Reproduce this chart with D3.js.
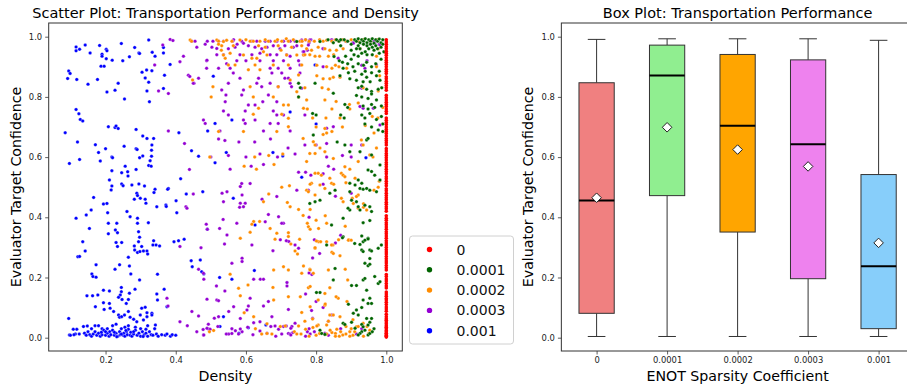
<!DOCTYPE html>
<html>
<head>
<meta charset="utf-8">
<script src="https://cdn.jsdelivr.net/npm/d3@7"></script>
<style>
  body { margin: 0; background: #fff; }
  svg { display: block; font-family: "DejaVu Sans", sans-serif; }
</style>
</head>
<body>
<svg id="chart" width="907" height="388"></svg>
<script>
// ---- data ----
const sparsityLabels = ["0", "0.0001", "0.0002", "0.0003", "0.001"];
const scatterColors = ["#ff0000", "#006400", "#ff8c00", "#9400d3", "#0000ff"];
const boxColors = ["#f08080", "#90ee90", "#ffa500", "#ee82ee", "#87cefa"];

// box plot stats per sparsity coefficient
const boxLow = [0.004, 0.004, 0.004, 0.004, 0.004];
const boxQ1 = [0.081, 0.472, 0.351, 0.196, 0.030];
const boxMedian = [0.456, 0.871, 0.704, 0.643, 0.237];
const boxQ3 = [0.847, 0.972, 0.941, 0.923, 0.542];
const boxHigh = [0.991, 0.993, 0.993, 0.993, 0.988];
const boxMean = [0.465, 0.699, 0.625, 0.569, 0.315];

// sparsity 0: density is always 1.0
const zeroDensity = 1.0;
const zeroConfidence = [0.002,0.005,0.008,0.012,0.015,0.02,0.024,0.03,0.035,0.04,0.046,0.052,0.058,0.063,0.07,0.078,0.088,0.095,0.102,0.11,0.118,0.125,0.13,0.138,0.145,0.152,0.165,0.172,0.18,0.188,0.195,0.203,0.21,0.225,0.232,0.24,0.248,0.255,0.262,0.27,0.278,0.285,0.292,0.3,0.308,0.315,0.322,0.33,0.338,0.345,0.352,0.36,0.368,0.375,0.382,0.39,0.397,0.405,0.42,0.428,0.435,0.443,0.45,0.458,0.465,0.472,0.48,0.488,0.495,0.505,0.512,0.52,0.528,0.535,0.545,0.552,0.56,0.568,0.575,0.582,0.59,0.598,0.605,0.612,0.62,0.628,0.64,0.648,0.655,0.662,0.67,0.678,0.685,0.692,0.7,0.708,0.715,0.722,0.73,0.745,0.752,0.76,0.768,0.775,0.782,0.79,0.797,0.805,0.822,0.83,0.838,0.845,0.852,0.86,0.867,0.878,0.885,0.892,0.9,0.908,0.915,0.922,0.93,0.938,0.945,0.952,0.96,0.967,0.975,0.982,0.99];

// [density, confidence]
const points1e4 = [
  [0.91,0.99],[0.915,0.985],[0.92,0.993],[0.925,0.98],[0.93,0.99],[0.935,0.985],[0.94,0.993],[0.945,0.98],[0.95,0.99],[0.955,0.985],[0.96,0.993],[0.965,0.978],[0.97,0.99],[0.975,0.985],[0.98,0.992],[0.985,0.98],[0.99,0.99],
  [0.935,0.975],[0.945,0.97],[0.955,0.975],[0.96,0.965],[0.97,0.97],[0.975,0.96],[0.985,0.965],[0.99,0.975],[0.92,0.97],[0.925,0.96],[0.95,0.96],[0.965,0.955],[0.94,0.95],[0.915,0.96],[0.9,0.975],[0.89,0.985],[0.88,0.99],[0.865,0.985],[0.87,0.97],[0.87,0.99],[0.858,0.99],[0.849,0.98],[0.834,0.99],[0.811,0.984],[0.745,0.984],
  [0.9,0.955],[0.93,0.945],[0.945,0.94],[0.96,0.94],[0.98,0.945],[0.993,0.95],[0.908,0.94],[0.92,0.935],[0.884,0.935],[0.9,0.925],[0.851,0.934],[0.866,0.92],[0.875,0.915],[0.89,0.91],[0.905,0.9],[0.92,0.91],[0.935,0.905],[0.944,0.915],[0.958,0.9],[0.97,0.91],[0.985,0.925],
  [0.877,0.895],[0.892,0.88],[0.91,0.885],[0.93,0.875],[0.94,0.885],[0.958,0.88],[0.972,0.87],[0.98,0.885],[0.868,0.87],[0.896,0.86],[0.915,0.855],[0.934,0.85],[0.944,0.865],[0.954,0.85],[0.982,0.855],[0.797,0.845],[0.75,0.845],[0.755,0.83],[0.849,0.812],
  [0.92,0.83],[0.93,0.835],[0.944,0.825],[0.958,0.818],[0.977,0.825],[0.987,0.83],[0.915,0.805],[0.93,0.8],[0.948,0.795],[0.958,0.81],[0.972,0.79],[0.75,0.8],[0.882,0.775],[0.89,0.765],[0.934,0.77],[0.948,0.76],[0.958,0.775],[0.967,0.765],[0.986,0.77],
  [0.93,0.74],[0.939,0.73],[0.953,0.745],[0.972,0.725],[0.986,0.735],[0.939,0.71],[0.958,0.7],[0.977,0.69],[0.99,0.71],[0.79,0.745],[0.8,0.74],[0.88,0.73],[0.86,0.65],[0.87,0.74],
  [0.792,0.673],[0.882,0.64],[0.896,0.618],[0.925,0.618],[0.944,0.657],[0.948,0.662],[0.958,0.607],[0.982,0.574],[0.99,0.685],[0.948,0.557],[0.958,0.552],[0.967,0.54],[0.982,0.524],[0.92,0.524],[0.93,0.513],[0.911,0.507],[0.896,0.513],[0.925,0.496],[0.934,0.493],[0.944,0.496],[0.953,0.49],[0.972,0.485],
  [0.854,0.49],[0.839,0.48],[0.896,0.485],[0.901,0.457],[0.915,0.452],[0.92,0.435],[0.939,0.44],[0.953,0.435],[0.958,0.419],[0.925,0.424],[0.896,0.424],[0.891,0.43],[0.782,0.446],[0.797,0.452],[0.811,0.457],[0.877,0.397],[0.844,0.374],[0.934,0.382],[0.953,0.389],[0.877,0.335],[0.93,0.338],[0.948,0.33],
  [0.875,0.332],[0.83,0.308],[0.91,0.313],[0.925,0.31],[0.934,0.319],[0.939,0.324],[0.948,0.328],[0.93,0.291],[0.934,0.286],[0.953,0.291],[0.958,0.288],[0.986,0.308],[0.977,0.297],[0.953,0.263],[0.939,0.247],[0.948,0.239],[0.953,0.244],
  [0.854,0.23],[0.849,0.192],[0.934,0.192],[0.939,0.197],[0.967,0.203],[0.977,0.18],[0.982,0.186],[0.901,0.173],[0.915,0.173],[0.944,0.158],[0.953,0.131],[0.934,0.125],[0.948,0.114],[0.958,0.114],[0.811,0.15],[0.801,0.15],[0.892,0.111],[0.93,0.1],
  [0.915,0.092],[0.906,0.081],[0.92,0.075],[0.958,0.064],[0.944,0.064],[0.953,0.051],[0.93,0.044],[0.934,0.036],[0.877,0.048],[0.882,0.044],[0.901,0.051],[0.948,0.042],[0.939,0.025],[0.93,0.02],[0.911,0.031],[0.925,0.014],[0.948,0.009],[0.953,0.014],[0.816,0.014],[0.825,0.011],[0.92,0.009],[0.811,0.025],[0.96,0.02],[0.965,0.03]
];

const points2e4 = [
  [0.441,0.989],[0.445,0.985],[0.517,0.989],[0.522,0.985],[0.536,0.984],[0.545,0.988],[0.56,0.985],[0.583,0.989],[0.6,0.99],[0.612,0.985],[0.621,0.985],[0.64,0.985],[0.655,0.99],[0.664,0.985],[0.683,0.985],[0.69,0.99],[0.702,0.985],[0.715,0.993],[0.721,0.985],[0.735,0.99],[0.754,0.985],[0.76,0.985],[0.77,0.99],[0.78,0.985],[0.795,0.985],[0.81,0.99],[0.82,0.985],[0.83,0.988],[0.845,0.985],[0.855,0.99],[0.865,0.985],[0.875,0.99],[0.885,0.985],[0.9,0.99],[0.92,0.985],[0.935,0.99],[0.955,0.985],[0.975,0.99],
  [0.531,0.97],[0.564,0.97],[0.636,0.97],[0.655,0.965],[0.692,0.97],[0.73,0.965],[0.759,0.97],[0.773,0.96],[0.787,0.955],[0.806,0.965],[0.825,0.96],[0.839,0.955],[0.858,0.955],[0.877,0.96],[0.925,0.96],[0.977,0.96],[0.53,0.955],[0.555,0.945],[0.65,0.95],[0.7,0.955],[0.522,0.975],
  [0.536,0.939],[0.593,0.939],[0.66,0.939],[0.716,0.939],[0.745,0.939],[0.764,0.939],[0.768,0.94],[0.782,0.94],[0.797,0.935],[0.81,0.935],[0.835,0.935],[0.85,0.94],[0.972,0.935],[0.541,0.928],[0.617,0.928],[0.631,0.928],
  [0.55,0.906],[0.569,0.906],[0.626,0.906],[0.678,0.906],[0.721,0.906],[0.759,0.906],[0.802,0.905],[0.83,0.9],[0.845,0.895],[0.855,0.905],[0.865,0.9],[0.887,0.895],[0.972,0.9],[0.607,0.89],[0.64,0.89],
  [0.75,0.873],[0.802,0.87],[0.82,0.86],[0.839,0.86],[0.849,0.865],[0.868,0.865],[0.981,0.87],[0.448,0.856],[0.726,0.856],[0.506,0.834],[0.612,0.834],[0.692,0.834],[0.768,0.83],[0.817,0.83],[0.835,0.825],[0.934,0.83],[0.977,0.82],[0.745,0.817],
  [0.501,0.8],[0.621,0.8],[0.678,0.8],[0.75,0.8],[0.773,0.79],[0.825,0.79],[0.857,0.785],[0.895,0.775],[0.92,0.78],[0.707,0.773],[0.721,0.773],[0.636,0.762],[0.764,0.762],[0.775,0.76],[0.845,0.76],[0.896,0.76],[0.99,0.765],
  [0.621,0.742],[0.702,0.742],[0.721,0.729],[0.79,0.73],[0.828,0.73],[0.868,0.73],[0.96,0.735],[0.976,0.73],[0.721,0.701],[0.8,0.7],[0.825,0.695],[0.875,0.7],[0.94,0.705],[0.522,0.685],[0.593,0.685],[0.688,0.685],[0.83,0.68],[0.965,0.68],
  [0.763,0.662],[0.82,0.675],[0.845,0.685],[0.792,0.651],[0.797,0.64],[0.811,0.63],[0.797,0.612],[0.782,0.612],[0.773,0.585],[0.825,0.618],[0.849,0.595],[0.882,0.568],[0.896,0.56],[0.92,0.585],[0.929,0.657],[0.934,0.64],[0.972,0.63],[0.953,0.607],[0.962,0.6],
  [0.497,0.6],[0.625,0.6],[0.665,0.605],[0.705,0.61],[0.595,0.57],[0.63,0.56],[0.68,0.575],[0.773,0.49],[0.778,0.485],[0.797,0.546],[0.806,0.546],[0.815,0.54],[0.839,0.53],[0.844,0.513],[0.872,0.546],[0.877,0.54],[0.882,0.535],[0.911,0.53],[0.977,0.5],[0.787,0.513],[0.811,0.507],[0.825,0.496],
  [0.872,0.463],[0.877,0.452],[0.906,0.446],[0.92,0.474],[0.797,0.474],[0.665,0.477],[0.702,0.5],[0.724,0.505],[0.783,0.51],[0.85,0.51],[0.885,0.515],[0.915,0.469],[0.903,0.463],[0.92,0.43],[0.935,0.445],[0.65,0.452],[0.718,0.449],[0.726,0.435],[0.75,0.426],[0.783,0.426],[0.826,0.405],[0.83,0.38],[0.883,0.37],[0.935,0.433],[0.944,0.424],[0.965,0.49],[0.98,0.52],
  [0.622,0.386],[0.639,0.386],[0.617,0.377],[0.669,0.363],[0.688,0.347],[0.721,0.349],[0.721,0.336],[0.753,0.327],[0.778,0.369],[0.783,0.36],[0.807,0.363],[0.612,0.35],[0.584,0.33],[0.683,0.327],[0.728,0.311],[0.74,0.288],[0.807,0.319],[0.813,0.319],[0.864,0.325],[0.893,0.325],[0.848,0.308],[0.845,0.284],[0.797,0.297],[0.747,0.278],[0.763,0.406],[0.775,0.38],[0.8,0.39],
  [0.801,0.321],[0.83,0.319],[0.844,0.308],[0.892,0.324],[0.9,0.324],[0.797,0.299],[0.849,0.28],[0.868,0.272],[0.759,0.214],[0.792,0.214],[0.782,0.227],[0.778,0.166],[0.839,0.166],[0.825,0.147],[0.863,0.131],[0.825,0.108],[0.806,0.125],
  [0.783,0.225],[0.835,0.225],[0.883,0.227],[0.89,0.192],[0.721,0.225],[0.679,0.225],[0.707,0.236],[0.764,0.238],[0.555,0.211],[0.606,0.175],[0.579,0.164],[0.584,0.139],[0.677,0.167],[0.721,0.136],[0.783,0.17],[0.826,0.112],[0.857,0.136],[0.888,0.12],[0.755,0.136],[0.783,0.103],[0.679,0.125],[0.595,0.083],[0.622,0.07],
  [0.759,0.084],[0.839,0.075],[0.849,0.075],[0.868,0.07],[0.768,0.055],[0.806,0.042],[0.83,0.042],[0.66,0.046],[0.698,0.037],[0.712,0.039],[0.75,0.039],[0.791,0.034],[0.802,0.039],[0.915,0.036],[0.934,0.048],[0.953,0.025],
  [0.81,0.014],[0.83,0.012],[0.845,0.017],[0.855,0.014],[0.87,0.02],[0.88,0.045],[0.885,0.037],[0.92,0.037],[0.945,0.037],[0.95,0.014],[0.645,0.012],[0.66,0.014],[0.674,0.012],[0.496,0.02],[0.508,0.024],[0.627,0.03],[0.738,0.02],[0.745,0.012],[0.835,0.055],[0.84,0.025],[0.859,0.028],[0.866,0.005],[0.876,0.009],[0.885,0.012],[0.896,0.02],[0.905,0.008],[0.78,0.005],[0.8,0.008],[0.855,0.005],[0.896,0.005],[0.9,0.03],[0.91,0.02],[0.77,0.028],[0.757,0.012],[0.905,0.06],[0.79,0.062],[0.935,0.005]
];

const points3e4 = [
  [0.384,0.991],[0.392,0.987],[0.363,0.972],[0.446,0.985],[0.455,0.985],[0.484,0.975],[0.49,0.985],[0.506,0.985],[0.517,0.961],[0.522,0.985],[0.536,0.985],[0.565,0.99],[0.575,0.975],[0.562,0.985],[0.588,0.985],[0.593,0.978],[0.607,0.97],[0.617,0.985],[0.626,0.965],[0.631,0.985],[0.645,0.96],[0.655,0.985],[0.66,0.965],[0.669,0.985],[0.678,0.97],[0.688,0.985],[0.697,0.96],[0.707,0.985],[0.711,0.97],[0.726,0.985],[0.735,0.965],[0.74,0.985],[0.745,0.97],[0.759,0.985],[0.77,0.99],[0.78,0.98],[0.785,0.99],[0.845,0.99],[0.885,0.985],[0.905,0.98],[0.965,0.985],[0.98,0.975],[0.46,0.965],[0.503,0.965],[0.55,0.96],[0.569,0.965],
  [0.759,0.989],[0.782,0.989],[0.844,0.989],[0.887,0.984],[0.906,0.978],[0.763,0.95],[0.778,0.972],[0.82,0.961],[0.967,0.978],[0.982,0.972],
  [0.422,0.935],[0.412,0.917],[0.517,0.94],[0.536,0.94],[0.583,0.94],[0.617,0.94],[0.64,0.945],[0.669,0.94],[0.688,0.94],[0.716,0.94],[0.726,0.935],[0.764,0.94],[0.775,0.955],[0.82,0.96],[0.765,0.95],[0.863,0.928],
  [0.34,0.906],[0.488,0.92],[0.574,0.92],[0.64,0.92],[0.678,0.92],[0.707,0.92],[0.75,0.92],[0.489,0.922],[0.545,0.91],[0.6,0.92],[0.488,0.895],[0.522,0.895],[0.555,0.895],[0.669,0.895],[0.692,0.895],[0.726,0.895],[0.754,0.906],[0.82,0.9],[0.939,0.895],[0.972,0.906],
  [0.436,0.872],[0.44,0.868],[0.564,0.879],[0.674,0.879],[0.702,0.879],[0.754,0.879],[0.465,0.862],[0.583,0.862],[0.636,0.862],[0.711,0.862],[0.721,0.862],[0.452,0.845],[0.45,0.845],[0.55,0.845],[0.631,0.845],[0.669,0.845],[0.726,0.845],[0.93,0.905],[0.945,0.92],
  [0.351,0.82],[0.379,0.811],[0.645,0.834],[0.692,0.834],[0.73,0.834],[0.531,0.823],[0.593,0.823],[0.543,0.806],[0.588,0.806],[0.664,0.806],[0.541,0.784],[0.648,0.784],[0.688,0.784],[0.607,0.773],[0.626,0.773],[0.759,0.829],[0.93,0.829],
  [0.536,0.753],[0.598,0.753],[0.678,0.753],[0.55,0.74],[0.688,0.74],[0.707,0.74],[0.768,0.74],[0.925,0.768],[0.934,0.762],[0.963,0.762],[0.479,0.723],[0.593,0.723],[0.626,0.723],[0.484,0.712],[0.598,0.712],[0.669,0.712],[0.692,0.712],[0.982,0.707],[0.83,0.696],[0.849,0.701],
  [0.379,0.687],[0.526,0.687],[0.65,0.687],[0.726,0.687],[0.425,0.645],[0.522,0.66],[0.54,0.655],[0.58,0.65],[0.625,0.65],[0.67,0.66],[0.72,0.63],[0.768,0.64],[0.8,0.64],[0.83,0.645],[0.9,0.64],[0.93,0.64],
  [0.439,0.559],[0.5,0.6],[0.55,0.605],[0.6,0.6],[0.64,0.61],[0.65,0.575],[0.69,0.6],[0.74,0.61],[0.75,0.55],[0.83,0.6],[0.875,0.605],[0.9,0.6],[0.77,0.55],[0.82,0.545],[0.835,0.57],[0.85,0.56],[0.615,0.57],[0.555,0.56],
  [0.45,0.477],[0.429,0.435],[0.432,0.43],[0.532,0.48],[0.546,0.485],[0.584,0.502],[0.588,0.512],[0.612,0.512],[0.589,0.474],[0.536,0.452],[0.584,0.447],[0.598,0.447],[0.593,0.435],[0.582,0.433],[0.646,0.46],[0.688,0.469],[0.745,0.49],[0.778,0.49],[0.664,0.409],[0.693,0.402],[0.707,0.38],[0.702,0.38],[0.78,0.4],[0.855,0.47],[0.9,0.48],[0.785,0.54],[0.82,0.51],
  [0.487,0.377],[0.49,0.36],[0.535,0.393],[0.525,0.363],[0.574,0.38],[0.655,0.385],[0.546,0.341],[0.539,0.311],[0.617,0.308],[0.698,0.325],[0.722,0.32],[0.715,0.322],[0.74,0.308],[0.75,0.297],[0.677,0.289],[0.472,0.299],[0.412,0.303],[0.465,0.227],[0.479,0.214],[0.589,0.264],[0.589,0.253],[0.56,0.247],[0.795,0.325],[0.81,0.28],[0.79,0.265],[0.855,0.315],[0.87,0.34],[0.78,0.215],[0.788,0.21],
  [0.622,0.194],[0.641,0.194],[0.65,0.194],[0.48,0.194],[0.516,0.172],[0.54,0.155],[0.717,0.183],[0.717,0.172],[0.375,0.131],[0.378,0.105],[0.489,0.128],[0.517,0.125],[0.522,0.123],[0.612,0.131],[0.607,0.105],[0.664,0.12],[0.65,0.105],[0.565,0.103],[0.551,0.087],[0.603,0.092],[0.584,0.064],[0.674,0.07],[0.721,0.094],[0.522,0.07],[0.51,0.065],[0.446,0.087],[0.465,0.072],[0.787,0.09],[0.79,0.065],[0.8,0.12],[0.82,0.1],[0.845,0.075],[0.835,0.055],[0.77,0.145],
  [0.412,0.053],[0.433,0.04],[0.493,0.045],[0.478,0.027],[0.493,0.029],[0.52,0.037],[0.489,0.031],[0.498,0.028],[0.46,0.02],[0.479,0.009],[0.622,0.05],[0.64,0.053],[0.671,0.037],[0.683,0.039],[0.707,0.037],[0.715,0.039],[0.731,0.037],[0.74,0.048],[0.728,0.031],[0.721,0.014],[0.726,0.012],[0.734,0.017],[0.728,0.009],[0.551,0.012],[0.56,0.014],[0.57,0.023],[0.579,0.012],[0.589,0.02],[0.48,0.009],[0.544,0.012],[0.584,0.029],[0.693,0.028],[0.702,0.012],[0.775,0.02],[0.783,0.012],[0.78,0.03],[0.795,0.02],[0.825,0.015],[0.835,0.008],[0.87,0.03],[0.915,0.012],[0.93,0.03],[0.77,0.005],[0.62,0.01],[0.66,0.015],[0.685,0.005],[0.64,0.022],[0.56,0.03],[0.605,0.035]
];

const points1e3 = [
  [0.116,0.966],[0.116,0.953],[0.126,0.958],[0.142,0.972],[0.156,0.946],[0.183,0.971],[0.19,0.942],[0.19,0.935],[0.202,0.958],[0.204,0.953],[0.202,0.927],[0.219,0.922],[0.187,0.902],[0.196,0.902],[0.245,0.977],[0.249,0.92],[0.268,0.933],[0.283,0.964],[0.295,0.946],[0.297,0.944],[0.323,0.989],[0.333,0.948],[0.341,0.935],[0.365,0.964],[0.365,0.946],[0.384,0.908],
  [0.304,0.882],[0.317,0.889],[0.332,0.887],[0.313,0.863],[0.323,0.849],[0.318,0.82],[0.325,0.784],[0.368,0.872],[0.365,0.828],[0.095,0.886],[0.099,0.878],[0.092,0.861],[0.118,0.858],[0.15,0.842],[0.177,0.858],[0.204,0.816],[0.227,0.822],[0.236,0.845],[0.254,0.793],[0.507,0.869],[0.797,0.906],
  [0.116,0.758],[0.124,0.744],[0.128,0.725],[0.135,0.72],[0.085,0.681],[0.12,0.65],[0.126,0.592],[0.097,0.579],[0.171,0.641],[0.18,0.615],[0.185,0.587],[0.208,0.701],[0.227,0.698],[0.23,0.703],[0.236,0.695],[0.2,0.628],[0.218,0.6],[0.22,0.598],[0.253,0.636],[0.287,0.692],[0.306,0.67],[0.318,0.662],[0.337,0.662],[0.287,0.628],[0.29,0.625],[0.297,0.598],[0.306,0.604],[0.332,0.64],[0.331,0.623],[0.331,0.603],[0.327,0.588],[0.323,0.572],[0.33,0.57],
  [0.414,0.528],[0.445,0.621],[0.465,0.603],[0.491,0.687],[0.512,0.712],[0.512,0.581],[0.56,0.723],[0.544,0.615],[0.677,0.615],[0.705,0.604],[0.726,0.75],[0.8,0.71],[0.759,0.533],[0.942,0.598],[0.409,0.681],
  [0.218,0.555],[0.246,0.548],[0.263,0.551],[0.264,0.537],[0.256,0.57],[0.287,0.559],[0.211,0.524],[0.218,0.504],[0.216,0.491],[0.246,0.511],[0.25,0.505],[0.275,0.507],[0.295,0.511],[0.311,0.504],[0.289,0.48],[0.291,0.472],[0.299,0.463],[0.313,0.46],[0.315,0.447],[0.282,0.46],[0.341,0.493],[0.338,0.482],[0.379,0.496],[0.377,0.493],[0.346,0.435],[0.372,0.441],[0.373,0.436],[0.43,0.477],[0.477,0.485],[0.401,0.455],[0.403,0.415],[0.564,0.463],
  [0.166,0.466],[0.194,0.444],[0.204,0.446],[0.206,0.415],[0.116,0.397],[0.145,0.408],[0.159,0.424],[0.154,0.363],[0.135,0.319],[0.142,0.288],[0.121,0.269],[0.126,0.27],[0.173,0.242],[0.161,0.212],[0.164,0.203],[0.173,0.201],
  [0.208,0.38],[0.208,0.345],[0.232,0.38],[0.228,0.358],[0.234,0.349],[0.23,0.316],[0.234,0.303],[0.246,0.316],[0.261,0.419],[0.27,0.402],[0.291,0.397],[0.291,0.38],[0.294,0.352],[0.297,0.334],[0.294,0.319],[0.282,0.305],[0.283,0.291],[0.291,0.283],[0.298,0.286],[0.308,0.288],[0.318,0.288],[0.32,0.278],[0.303,0.303],[0.322,0.382],[0.337,0.322],[0.335,0.308],[0.344,0.308],[0.348,0.211],[0.354,0.305],[0.395,0.319],[0.408,0.322],[0.424,0.327],[0.444,0.256],[0.447,0.236],[0.474,0.219],[0.48,0.212],[0.626,0.374],[0.49,0.36],[0.47,0.258],[0.525,0.2],[0.56,0.194],[0.624,0.223],
  [0.265,0.267],[0.272,0.212],[0.297,0.192],[0.268,0.238],[0.24,0.242],[0.227,0.227],[0.211,0.155],[0.194,0.158],[0.178,0.142],[0.163,0.139],[0.147,0.139],[0.245,0.167],[0.245,0.153],[0.242,0.142],[0.237,0.134],[0.247,0.127],[0.259,0.114],[0.265,0.127],[0.268,0.148],[0.284,0.161],[0.303,0.098],[0.313,0.101],[0.318,0.083],[0.332,0.081],[0.346,0.145],[0.348,0.125],[0.367,0.161],[0.375,0.103],
  [0.171,0.103],[0.194,0.116],[0.196,0.094],[0.211,0.114],[0.213,0.098],[0.223,0.087],[0.237,0.075],[0.24,0.068],[0.246,0.07],[0.254,0.075],[0.265,0.087],[0.27,0.068],[0.28,0.061],[0.289,0.053],[0.299,0.075],[0.308,0.059],[0.318,0.07],[0.332,0.075],[0.342,0.042],[0.095,0.064],[0.536,0.07],[0.526,0.037],[0.607,0.033],[0.657,0.042],[0.58,0.015],
  [0.118,0.028],[0.108,0.028],[0.114,0.012],[0.097,0.009],[0.137,0.037],[0.148,0.039],[0.16,0.03],[0.17,0.04],[0.18,0.04],[0.19,0.03],[0.23,0.045],[0.265,0.04],[0.285,0.035],[0.3,0.03],[0.32,0.04],[0.34,0.03],[0.205,0.03],[0.22,0.04],[0.255,0.035],[0.315,0.028],
  [0.1,0.008],[0.11,0.01],[0.125,0.012],[0.14,0.015],[0.145,0.008],[0.15,0.02],[0.155,0.01],[0.16,0.005],[0.165,0.012],[0.17,0.02],[0.175,0.008],[0.18,0.015],[0.185,0.005],[0.19,0.01],[0.195,0.025],[0.2,0.008],[0.205,0.015],[0.21,0.005],[0.212,0.02],[0.215,0.01],[0.22,0.025],[0.225,0.008],[0.23,0.015],[0.235,0.005],[0.24,0.02],[0.242,0.01],[0.245,0.03],[0.25,0.008],[0.252,0.015],[0.255,0.005],[0.26,0.02],[0.262,0.01],[0.265,0.028],[0.27,0.008],[0.272,0.018],[0.275,0.005],[0.28,0.012],[0.285,0.025],[0.29,0.008],[0.295,0.015],[0.3,0.005],[0.305,0.02],[0.31,0.01],[0.315,0.015],[0.32,0.005],[0.325,0.02],[0.33,0.01],[0.335,0.008],[0.345,0.012],[0.35,0.005],[0.36,0.01],[0.37,0.008],[0.375,0.012],[0.385,0.005],[0.39,0.01],[0.4,0.008],[0.28,0.02],[0.225,0.018],[0.2,0.02],[0.245,0.012],[0.232,0.003],[0.258,0.024],[0.307,0.004],[0.188,0.018]
];

const scatterSeries = [
  zeroConfidence.map((c) => [zeroDensity, c]),
  points1e4,
  points2e4,
  points3e4,
  points1e3,
];

// ---- layout ----
const svg = d3.select("#chart");
const FONT = "DejaVu Sans, sans-serif";
const TICK_FONT = 8.4;
const LABEL_FONT = 14.2;
const SPINE = "#333";

const sx = d3.scaleLinear().domain([0.038, 1.0456]).range([48.7, 402.3]);
const sy = d3.scaleLinear().domain([-0.0442, 1.0455]).range([351, 23]);

const bx = d3.scalePoint().domain(sparsityLabels).range([596.6, 878.6]);
const by = d3.scaleLinear().domain([-0.0442, 1.0455]).range([351, 23]);

function styleAxis(g) {
  g.select(".domain").remove();
  g.selectAll(".tick line").attr("stroke", SPINE).attr("stroke-width", 0.8);
  g.selectAll(".tick text")
    .attr("fill", "#222")
    .attr("font-size", TICK_FONT)
    .attr("font-family", FONT);
}

// ---- scatter panel ----
const scatterTicks = [0.2, 0.4, 0.6, 0.8, 1.0];
const confTicks = [0.0, 0.2, 0.4, 0.6, 0.8, 1.0];

svg.append("g")
  .attr("transform", "translate(0,351)")
  .call(d3.axisBottom(sx).tickValues(scatterTicks).tickFormat(d3.format(".1f")).tickSize(3.5).tickPadding(3))
  .call(styleAxis);

svg.append("g")
  .attr("transform", "translate(48.7,0)")
  .call(d3.axisLeft(sy).tickValues(confTicks).tickFormat(d3.format(".1f")).tickSize(3.5).tickPadding(3))
  .call(styleAxis);

const dotLayer = svg.append("g");
// draw order: 0.001 first, sparsity 0 last (on top)
[4, 3, 2, 1, 0].forEach((i) => {
  dotLayer.append("g")
    .selectAll("circle")
    .data(scatterSeries[i])
    .join("circle")
    .attr("cx", (d) => sx(d[0]))
    .attr("cy", (d) => sy(d[1]))
    .attr("r", i === 0 ? 1.8 : 1.75)
    .attr("fill", scatterColors[i])
    .attr("stroke", i === 0 ? "none" : "#fff")
    .attr("stroke-width", 0.3);
});

svg.append("rect")
  .attr("x", sx.range()[0]).attr("y", sy.range()[1])
  .attr("width", sx.range()[1] - sx.range()[0])
  .attr("height", sy.range()[0] - sy.range()[1])
  .attr("fill", "none").attr("stroke", SPINE).attr("stroke-width", 1);

svg.append("text")
  .attr("x", (sx.range()[0] + sx.range()[1]) / 2).attr("y", 18)
  .attr("text-anchor", "middle").attr("font-size", 14.5).attr("font-family", FONT)
  .text("Scatter Plot: Transportation Performance and Density");

svg.append("text")
  .attr("x", (sx.range()[0] + sx.range()[1]) / 2).attr("y", 381)
  .attr("text-anchor", "middle").attr("font-size", LABEL_FONT).attr("font-family", FONT)
  .text("Density");

svg.append("text")
  .attr("transform", `translate(21,${(sy.range()[0] + sy.range()[1]) / 2}) rotate(-90)`)
  .attr("text-anchor", "middle").attr("font-size", LABEL_FONT).attr("font-family", FONT)
  .text("Evaluator Target Confidence");

// legend
const legend = svg.append("g").attr("transform", "translate(409.5,236)");
legend.append("rect")
  .attr("width", 104).attr("height", 108).attr("rx", 3)
  .attr("fill", "#fff").attr("fill-opacity", 0.8)
  .attr("stroke", "#d0d0d0").attr("stroke-width", 1);
sparsityLabels.forEach((label, i) => {
  const row = legend.append("g").attr("transform", `translate(0,${13.5 + i * 20.3})`);
  row.append("circle").attr("cx", 20).attr("cy", 0).attr("r", 2.7).attr("fill", scatterColors[i]);
  row.append("text")
    .attr("x", 47).attr("y", 5)
    .attr("font-size", 14).attr("font-family", FONT).attr("fill", "#111")
    .text(label);
});

// ---- box panel ----
svg.append("g")
  .attr("transform", "translate(0,351)")
  .call(d3.axisBottom(bx).tickSize(3.5).tickPadding(3))
  .call(styleAxis);

svg.append("g")
  .attr("transform", "translate(561.4,0)")
  .call(d3.axisLeft(by).tickValues(confTicks).tickFormat(d3.format(".1f")).tickSize(3.5).tickPadding(3))
  .call(styleAxis);

const step = bx.step();
const boxW = step * 0.5;
const capW = boxW * 0.5;

const boxes = svg.append("g")
  .selectAll("g")
  .data(sparsityLabels.map((label, i) => ({
    label, low: boxLow[i], q1: boxQ1[i], median: boxMedian[i],
    q3: boxQ3[i], high: boxHigh[i], mean: boxMean[i], color: boxColors[i],
  })))
  .join("g")
  .attr("transform", (d) => `translate(${bx(d.label)},0)`);

boxes.append("line").attr("y1", (d) => by(d.low)).attr("y2", (d) => by(d.q1))
  .attr("stroke", SPINE).attr("stroke-width", 1);
boxes.append("line").attr("y1", (d) => by(d.q3)).attr("y2", (d) => by(d.high))
  .attr("stroke", SPINE).attr("stroke-width", 1);
boxes.append("line").attr("x1", -capW / 2).attr("x2", capW / 2)
  .attr("y1", (d) => by(d.low)).attr("y2", (d) => by(d.low))
  .attr("stroke", SPINE).attr("stroke-width", 1);
boxes.append("line").attr("x1", -capW / 2).attr("x2", capW / 2)
  .attr("y1", (d) => by(d.high)).attr("y2", (d) => by(d.high))
  .attr("stroke", SPINE).attr("stroke-width", 1);
boxes.append("rect")
  .attr("x", -boxW / 2).attr("width", boxW)
  .attr("y", (d) => by(d.q3)).attr("height", (d) => by(d.q1) - by(d.q3))
  .attr("fill", (d) => d.color).attr("stroke", SPINE).attr("stroke-width", 1);
boxes.append("line").attr("x1", -boxW / 2).attr("x2", boxW / 2)
  .attr("y1", (d) => by(d.median)).attr("y2", (d) => by(d.median))
  .attr("stroke", "#000").attr("stroke-width", 2);
boxes.append("path")
  .attr("d", d3.symbol(d3.symbolDiamond2, 58))
  .attr("transform", (d) => `translate(0,${by(d.mean)})`)
  .attr("fill", "#fff").attr("stroke", "#222").attr("stroke-width", 1);

// frame (right edge falls outside the window)
const bLeft = bx.range()[0] - step / 2;
const bRight = bx.range()[1] + step / 2;
svg.append("rect")
  .attr("x", bLeft).attr("y", by.range()[1])
  .attr("width", bRight - bLeft).attr("height", by.range()[0] - by.range()[1])
  .attr("fill", "none").attr("stroke", SPINE).attr("stroke-width", 1);

svg.append("text")
  .attr("x", (bLeft + bRight) / 2).attr("y", 18)
  .attr("text-anchor", "middle").attr("font-size", 14.5).attr("font-family", FONT)
  .text("Box Plot: Transportation Performance");

svg.append("text")
  .attr("x", (bLeft + bRight) / 2).attr("y", 381)
  .attr("text-anchor", "middle").attr("font-size", LABEL_FONT).attr("font-family", FONT)
  .text("ENOT Sparsity Coefficient");

svg.append("text")
  .attr("transform", `translate(533,${(by.range()[0] + by.range()[1]) / 2}) rotate(-90)`)
  .attr("text-anchor", "middle").attr("font-size", LABEL_FONT).attr("font-family", FONT)
  .text("Evaluator Target Confidence");
</script>
</body>
</html>
